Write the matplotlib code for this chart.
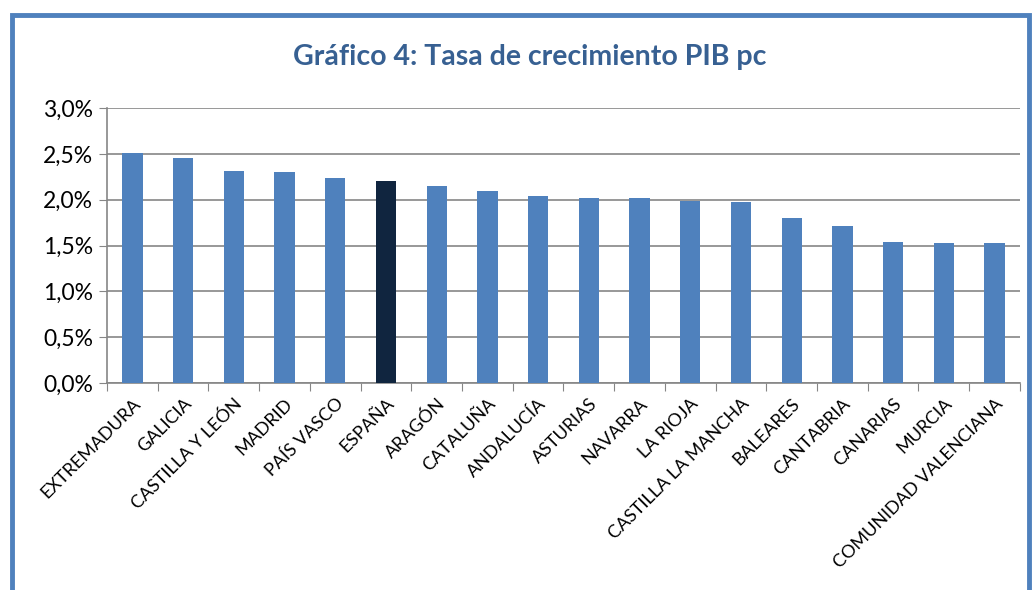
import matplotlib.pyplot as plt
import numpy as np
from matplotlib.patches import Rectangle
from matplotlib.ticker import FuncFormatter, MultipleLocator

regions = ["EXTREMADURA", "GALICIA", "CASTILLA Y LEÓN", "MADRID", "PAÍS VASCO",
           "ESPAÑA", "ARAGÓN", "CATALUÑA", "ANDALUCÍA", "ASTURIAS", "NAVARRA",
           "LA RIOJA", "CASTILLA LA MANCHA", "BALEARES", "CANTABRIA", "CANARIAS",
           "MURCIA", "COMUNIDAD VALENCIANA"]
growth = [2.51, 2.45, 2.31, 2.30, 2.24, 2.20, 2.15, 2.10, 2.04, 2.02, 2.02,
          1.99, 1.97, 1.80, 1.71, 1.54, 1.53, 1.53]

plt.rcParams['font.family'] = ['Lato', 'DejaVu Sans']

fig = plt.figure(figsize=(10.35, 5.90), dpi=100)
ax = fig.add_axes([0.1034, 0.3508, 0.882, 0.4661])

x = np.arange(len(regions))
colors = ["#10253F" if r == "ESPAÑA" else "#4F81BD" for r in regions]
ax.bar(x, growth, width=0.4, color=colors, zorder=3)

ax.set_xlim(-0.5, len(regions) - 0.5)
ax.set_ylim(0, 3.0)
ax.yaxis.set_major_locator(MultipleLocator(0.5))
ax.yaxis.set_major_formatter(FuncFormatter(lambda v, p: f"{v:.1f}%".replace(".", ",")))
ax.grid(axis="y", color="#868686", linewidth=1.2, zorder=0)

# category-boundary ticks like Excel
ax.set_xticks(np.arange(len(regions) + 1) - 0.5, minor=False)
ax.set_xticklabels([])
ax.set_xticks(x, minor=True)
ax.set_xticklabels(regions, minor=True, rotation=45, ha="right",
                   rotation_mode="anchor", fontsize=13)
ax.tick_params(axis="x", which="minor", length=0, pad=9)
ax.tick_params(axis="x", which="major", length=6, color="#868686", direction="out")
ax.tick_params(axis="y", length=6, color="#868686", labelsize=16.5, pad=4)

for s in ["top", "right"]:
    ax.spines[s].set_visible(False)
for s in ["left", "bottom"]:
    ax.spines[s].set_color("#868686")
    ax.spines[s].set_linewidth(1.2)

fig.text(0.512, 0.903, "Gráfico 4: Tasa de crecimiento PIB pc", ha="center",
         va="center", fontsize=20.5, fontweight="bold", color="#376092")

# blue frame around the chart
fig.patches.append(Rectangle((12 / 1035, -0.1), 1017 / 1035, 1.1 - 15 / 590,
                             transform=fig.transFigure, fill=False,
                             edgecolor="#4F81BD", linewidth=3.5))

fig.savefig("out.png", dpi=100)
